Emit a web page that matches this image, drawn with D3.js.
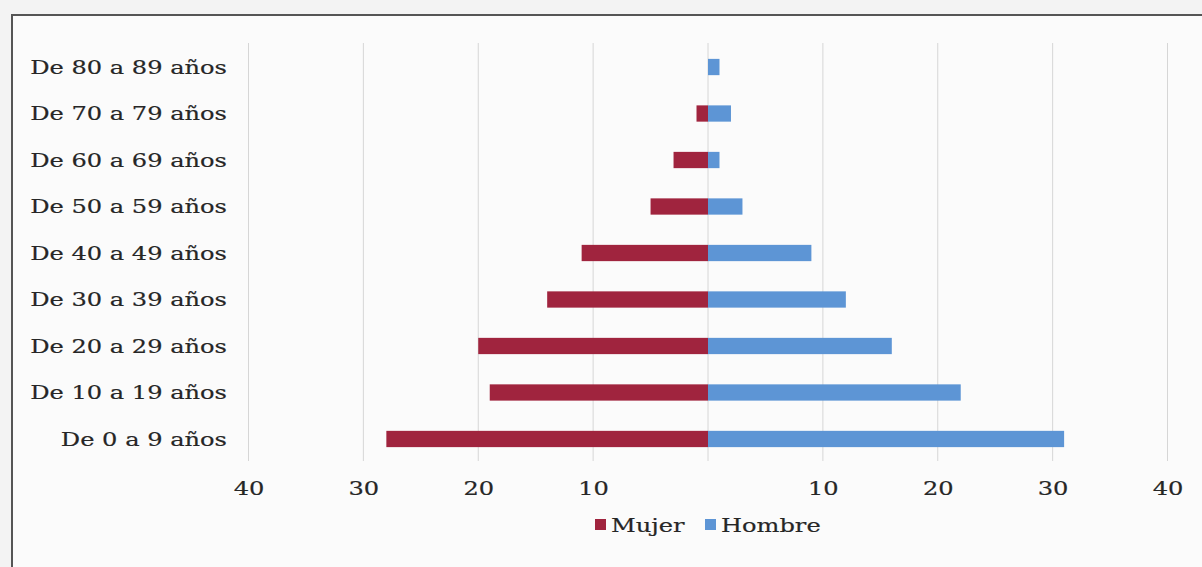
<!DOCTYPE html>
<html>
<head>
<meta charset="utf-8">
<script src="https://cdn.jsdelivr.net/npm/d3@7/dist/d3.min.js"></script>
<style>
  html, body { margin: 0; padding: 0; background: #f4f4f4; }
  svg { display: block; }
</style>
</head>
<body>
<svg id="chart" width="1202" height="567"></svg>
<script>
// Age groups, top to bottom
const categories = [
  "De 80 a 89 años", "De 70 a 79 años", "De 60 a 69 años",
  "De 50 a 59 años", "De 40 a 49 años", "De 30 a 39 años",
  "De 20 a 29 años", "De 10 a 19 años", "De 0 a 9 años"
];
// Counts per group (women drawn to the left, men to the right)
const mujer  = [0, 1, 3, 5, 11, 14, 20, 19, 28];
const hombre = [1, 2, 1, 3, 9, 12, 16, 22, 31];
const tickValues = [-40, -30, -20, -10, 0, 10, 20, 30, 40];
const seriesNames = ["Mujer", "Hombre"];
const colors = { Mujer: "#a0243e", Hombre: "#5d95d5" };

const svg = d3.select("#chart");
const W = 1202, H = 567;

// Wide serif lettering: DejaVu Serif stretched horizontally
const labelFont = "'DejaVu Serif', serif";
const fontSize = 19;
const stretch = 1.27;
function styleText(sel) {
  return sel.attr("font-family", labelFont).attr("font-size", fontSize)
    .attr("fill", "#262626").attr("stroke", "#262626").attr("stroke-width", 0.2);
}

// Page and framed panel
svg.append("rect").attr("width", W).attr("height", H).attr("fill", "#f3f3f3");
svg.append("rect")
  .attr("x", 12).attr("y", 15).attr("width", W).attr("height", H)
  .attr("fill", "#fbfbfb").attr("stroke", "#555").attr("stroke-width", 2);

const plot = { left: 248.5, right: 1167.5, top: 43, bottom: 461 };

const x = d3.scaleLinear().domain([-40, 40]).range([plot.left, plot.right]);
const y = d3.scaleBand().domain(categories).range([plot.top + 1, plot.bottom + 1]).paddingInner(0.65).paddingOuter(0.32);

// Vertical gridlines
svg.append("g").selectAll("line").data(tickValues).join("line")
  .attr("x1", d => x(d)).attr("x2", d => x(d))
  .attr("y1", plot.top).attr("y2", plot.bottom)
  .attr("stroke", "#d6d6d6").attr("stroke-width", 1);

// Bars
const rows = categories.map((c, i) => ({ c, m: mujer[i], h: hombre[i] }));
svg.append("g").selectAll("rect").data(rows).join("rect")
  .attr("x", d => x(-d.m)).attr("width", d => x(0) - x(-d.m))
  .attr("y", d => y(d.c)).attr("height", y.bandwidth())
  .attr("fill", colors.Mujer);
svg.append("g").selectAll("rect").data(rows).join("rect")
  .attr("x", x(0)).attr("width", d => x(d.h) - x(0))
  .attr("y", d => y(d.c)).attr("height", y.bandwidth())
  .attr("fill", colors.Hombre);

// Category labels
svg.append("g").selectAll("text").data(categories).join("text")
  .attr("transform", d => `translate(227, ${y(d) + y.bandwidth() / 2}) scale(${stretch}, 1)`)
  .attr("dy", "0.36em").attr("text-anchor", "end")
  .call(styleText).text(d => d);

// Bottom axis (no label at the centre)
const axis = d3.axisBottom(x).tickValues(tickValues.filter(v => v !== 0))
  .tickFormat(d => Math.abs(d)).tickSize(0).tickPadding(0);
const ax = svg.append("g").attr("transform", `translate(0, ${plot.bottom + 27})`).call(axis);
ax.select(".domain").remove();
ax.selectAll("text").attr("dy", "0.36em").attr("y", 0)
  .attr("transform", `scale(${stretch}, 1)`).call(styleText);

// Legend
const legend = svg.append("g");
const lx = [595, 705];
seriesNames.forEach((s, i) => {
  legend.append("rect").attr("x", lx[i]).attr("y", 519).attr("width", 11).attr("height", 11)
    .attr("fill", colors[s]);
  legend.append("text")
    .attr("transform", `translate(${lx[i] + 16}, 525) scale(${stretch}, 1)`)
    .attr("dy", "0.36em").call(styleText).text(s);
});
</script>
</body>
</html>
